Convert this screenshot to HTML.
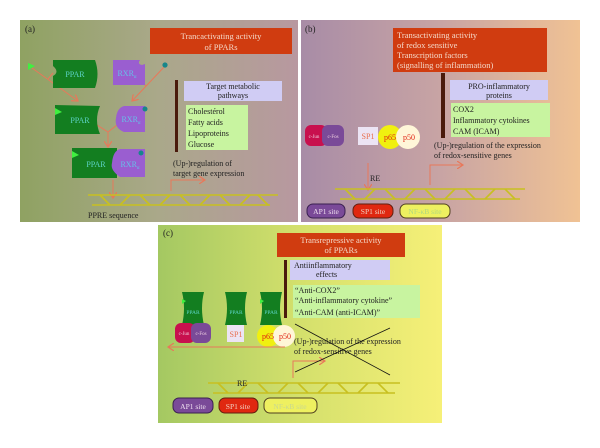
<!DOCTYPE html>
<html><head><meta charset="utf-8"><style>
html,body{margin:0;padding:0;background:#fff;}
svg text{font-family:"Liberation Serif",serif;}
</style></head><body>
<svg width="600" height="443" viewBox="0 0 600 443" xmlns="http://www.w3.org/2000/svg">
<defs>
<linearGradient id="ga" x1="0" x2="1" y1="0" y2="0"><stop offset="0" stop-color="#8fa262"/><stop offset="0.5" stop-color="#aaa88a"/><stop offset="1" stop-color="#b898a0"/></linearGradient>
<linearGradient id="gb" x1="0" x2="1" y1="0" y2="0"><stop offset="0" stop-color="#a88ca6"/><stop offset="0.5" stop-color="#c8a4a4"/><stop offset="1" stop-color="#f0c294"/></linearGradient>
<linearGradient id="gc" x1="0" x2="1" y1="0" y2="0"><stop offset="0" stop-color="#a4c862"/><stop offset="0.5" stop-color="#d4e06c"/><stop offset="1" stop-color="#f6f078"/></linearGradient>
<marker id="ar" markerWidth="8" markerHeight="8" refX="6" refY="4" orient="auto" markerUnits="userSpaceOnUse"><path d="M0,0 L6,4 L0,8" fill="none" stroke="#e8785a" stroke-width="1.2"/></marker>
</defs>
<!-- panel a -->
<rect x="20" y="20" width="278" height="202" fill="url(#ga)"/>
<text x="25" y="32" font-size="9" fill="#222">(a)</text>
<rect x="150" y="28" width="142" height="26" fill="#d03c10"/>
<text x="221" y="39" font-size="8.5" fill="#f4d8c8" text-anchor="middle">Trancactivating activity</text>
<text x="221" y="50" font-size="8.5" fill="#f4d8c8" text-anchor="middle">of PPARs</text>
<g stroke="#e8785a" stroke-width="1" fill="none">
<path d="M32,68 L78,101" marker-end="url(#ar)"/><path d="M48,79 L53,73"/>
<path d="M165,66 L132,101" marker-end="url(#ar)"/><path d="M146,86 L140,80"/>
<path d="M97,125 L108,132 L117,125"/><path d="M108,132 L108,147" marker-end="url(#ar)"/>
<path d="M113,180 L113,198" marker-end="url(#ar)"/>
<path d="M171,191 L171,180 L205,180" marker-end="url(#ar)"/>
</g>
<path d="M53,60 L95,60 Q100,74 95,88 L53,88 L53,76 Q60,72 53,66 Z" fill="#137e20"/>
<text x="75" y="77" font-size="8" fill="#5ed4c8" text-anchor="middle">PPAR</text>
<polygon points="28,63 35,66 28,70" fill="#40f040"/>
<path d="M113,60 L140,60 Q137,64 142,65 L145,64 L145,85 L113,85 Z" fill="#9a5ed0"/>
<text x="127" y="76" font-size="8" fill="#66c0e8" text-anchor="middle">RXR<tspan font-size="5" dy="2">α</tspan></text>
<circle cx="165" cy="65" r="2.6" fill="#17868a"/>
<path d="M55,105 L100,106 Q94,120 100,134 L55,134 Z" fill="#137e20"/>
<polygon points="55,108 62,112 55,115" fill="#40f040"/>
<text x="80" y="123" font-size="8" fill="#5ed4c8" text-anchor="middle">PPAR</text>
<path d="M124,106 L145,106 L145,132 L124,132 Q114,128 116,118 Q117,108 124,106 Z" fill="#9a5ed0"/>
<circle cx="145" cy="109" r="2.5" fill="#17868a"/>
<text x="131" y="122" font-size="8" fill="#66c0e8" text-anchor="middle">RXR<tspan font-size="5" dy="2">α</tspan></text>
<rect x="72" y="148" width="45" height="30" fill="#137e20"/>
<polygon points="72,151 79,155 72,158" fill="#40f040"/>
<path d="M120,149 L145,149 L145,177 L120,177 Q110,170 112,163 Q113,151 120,149 Z" fill="#9a5ed0"/>
<circle cx="141" cy="153" r="2.5" fill="#17868a"/>
<text x="96" y="167" font-size="8" fill="#5ed4c8" text-anchor="middle">PPAR</text>
<text x="130" y="167" font-size="8" fill="#66c0e8" text-anchor="middle">RXR<tspan font-size="5" dy="2">α</tspan></text>
<g stroke="#c8c020" stroke-width="1.6" fill="none">
<path d="M88,195 L278,195"/><path d="M92,205 L270,205"/>
<path d="M100,195 L110,205 M130,195 L120,205 M140,195 L150,205 M170,195 L160,205 M180,195 L190,205 M210,195 L200,205 M220,195 L230,205 M250,195 L240,205 M258,195 L268,205"/>
</g>
<text x="88" y="218" font-size="8" fill="#222">PPRE sequence</text>
<rect x="175" y="80" width="3" height="72" fill="#4a1a0c"/>
<rect x="184" y="81" width="98" height="20" fill="#d0ccf4"/>
<text x="233" y="89" font-size="8" fill="#222" text-anchor="middle">Target metabolic</text>
<text x="233" y="98" font-size="8" fill="#222" text-anchor="middle">pathways</text>
<rect x="186" y="105" width="62" height="45" fill="#c8f4a0"/>
<text font-size="8" fill="#222"><tspan x="188" y="114">Cholestérol</tspan><tspan x="188" y="125">Fatty acids</tspan><tspan x="188" y="136">Lipoproteins</tspan><tspan x="188" y="147">Glucose</tspan></text>
<text font-size="8" fill="#222"><tspan x="173" y="166">(Up-)regulation of</tspan><tspan x="173" y="176">target gene expression</tspan></text>

<!-- panel b -->
<rect x="301" y="20" width="279" height="202" fill="url(#gb)"/>
<text x="305" y="32" font-size="9" fill="#222">(b)</text>
<rect x="393" y="28" width="154" height="44" fill="#d03c10"/>
<text font-size="8.5" fill="#f4d8c8"><tspan x="397" y="38">Transactivating activity</tspan><tspan x="397" y="48">of redox sensitive</tspan><tspan x="397" y="58">Transcription factors</tspan><tspan x="397" y="68">(signalling of inflammation)</tspan></text>
<rect x="441" y="73" width="4" height="65" fill="#4a1a0c"/>
<rect x="450" y="80" width="98" height="20" fill="#d0ccf4"/>
<text x="499" y="89" font-size="8" fill="#222" text-anchor="middle">PRO-inflammatory</text>
<text x="499" y="98" font-size="8" fill="#222" text-anchor="middle">proteins</text>
<rect x="451" y="103" width="99" height="34" fill="#c8f4a0"/>
<text font-size="8" fill="#222"><tspan x="453" y="112">COX2</tspan><tspan x="453" y="123">Inflammatory cytokines</tspan><tspan x="453" y="134">CAM (ICAM)</tspan></text>
<rect x="305" y="125" width="22" height="21" rx="6" fill="#c8104e"/>
<rect x="322" y="125" width="22" height="21" rx="6" fill="#7a4a98"/>
<text x="314" y="138" font-size="5" fill="#f0d0e0" text-anchor="middle">c-Jun</text>
<text x="333" y="138" font-size="5" fill="#f0d0e0" text-anchor="middle">c-Fos</text>
<rect x="358" y="127" width="20" height="18" fill="#ece4f4"/>
<text x="368" y="139" font-size="8" fill="#e87050" text-anchor="middle">SP1</text>
<circle cx="390" cy="137" r="12" fill="#f0f010"/>
<circle cx="408" cy="137" r="12" fill="#fff6d8"/>
<text x="390" y="140" font-size="8" fill="#e02010" text-anchor="middle">p65</text>
<text x="409" y="140" font-size="8" fill="#e02010" text-anchor="middle">p50</text>
<text font-size="8" fill="#222"><tspan x="434" y="148">(Up-)regulation of the expression</tspan><tspan x="434" y="158">of redox-sensitive genes</tspan></text>
<g stroke="#e8785a" stroke-width="1" fill="none">
<path d="M368,163 L368,190" marker-end="url(#ar)"/>
<path d="M430,185 L430,165 L463,165" marker-end="url(#ar)"/>
</g>
<text x="370" y="181" font-size="8" fill="#222">RE</text>
<g stroke="#c8c020" stroke-width="1.6" fill="none">
<path d="M335,189 L525,189"/><path d="M340,199 L520,199"/>
<path d="M345,189 L355,199 M375,189 L365,199 M385,189 L395,199 M415,189 L405,199 M425,189 L435,199 M455,189 L445,199 M465,189 L475,199 M495,189 L485,199 M505,189 L515,199"/>
</g>
<rect x="307" y="204" width="38" height="14" rx="6" fill="#7a4a98" stroke="#3a2050"/>
<text x="326" y="214" font-size="7.5" fill="#f0e0f0" text-anchor="middle">AP1 site</text>
<rect x="353" y="204" width="40" height="14" rx="6" fill="#e02810" stroke="#602010"/>
<text x="373" y="214" font-size="7.5" fill="#f0d0c0" text-anchor="middle">SP1 site</text>
<rect x="400" y="204" width="50" height="14" rx="6" fill="#eef060" stroke="#504020"/>
<text x="425" y="214" font-size="7.5" fill="#b0d880" text-anchor="middle">NF-κB site</text>

<!-- panel c -->
<rect x="158" y="225" width="284" height="198" fill="url(#gc)"/>
<text x="163" y="236" font-size="9" fill="#222">(c)</text>
<rect x="277" y="233" width="128" height="24" fill="#d03c10"/>
<text x="341" y="243" font-size="8.5" fill="#f4d8c8" text-anchor="middle">Transrepressive activity</text>
<text x="341" y="253" font-size="8.5" fill="#f4d8c8" text-anchor="middle">of PPARs</text>
<rect x="284" y="260" width="3" height="58" fill="#4a1a0c"/>
<rect x="290" y="260" width="100" height="20" fill="#d0ccf4"/>
<text x="294" y="268" font-size="8" fill="#222">Antiinflammatory</text>
<text x="316" y="277" font-size="8" fill="#222">effects</text>
<rect x="293" y="285" width="127" height="33" fill="#c8f4a0"/>
<text font-size="8" fill="#222"><tspan x="295" y="293">“Anti-COX2”</tspan><tspan x="295" y="303">“Anti-inflammatory cytokine”</tspan><tspan x="295" y="315">“Anti-CAM (anti-ICAM)”</tspan></text>
<g fill="#137e20">
<path d="M182,292 L204,292 Q200,308 204,325 L182,325 Q186,308 182,292 Z"/>
<path d="M225,292 L247,292 Q243,308 247,325 L225,325 Q229,308 225,292 Z"/>
<path d="M260,292 L282,292 Q278,308 282,325 L260,325 Q264,308 260,292 Z"/>
</g>
<g fill="#40f040"><polygon points="182,299 186,301 182,304"/><polygon points="260,299 264,301 260,304"/></g>
<g font-size="5.5" fill="#5ed4c8" text-anchor="middle"><text x="193" y="314">PPAR</text><text x="236" y="314">PPAR</text><text x="271" y="314">PPAR</text></g>
<rect x="175" y="323" width="20" height="20" rx="6" fill="#c8104e"/>
<rect x="191" y="323" width="20" height="20" rx="6" fill="#7a4a98"/>
<text x="184" y="335" font-size="5" fill="#f0d0e0" text-anchor="middle">c-Jun</text>
<text x="201" y="335" font-size="5" fill="#f0d0e0" text-anchor="middle">c-Fos</text>
<rect x="227" y="325" width="17" height="17" fill="#ece4f4"/>
<text x="236" y="337" font-size="8" fill="#e87050" text-anchor="middle">SP1</text>
<circle cx="268" cy="336" r="11" fill="#f0f010"/>
<circle cx="284" cy="336" r="11" fill="#fff6d8"/>
<text x="268" y="339" font-size="8" fill="#e02010" text-anchor="middle">p65</text>
<text x="285" y="339" font-size="8" fill="#e02010" text-anchor="middle">p50</text>
<text font-size="8" fill="#222"><tspan x="294" y="344">(Up-)regulation of the expression</tspan><tspan x="294" y="354">of redox-sensitive genes</tspan></text>
<g stroke="#e8785a" stroke-width="1" fill="none">
<path d="M285,347 L168,347" marker-end="url(#ar)"/>
<path d="M293,378 L293,361 L325,361" marker-end="url(#ar)"/>
</g>
<g stroke="#111" stroke-width="0.8"><path d="M295,324 L390,375"/><path d="M295,372 L390,328"/></g>
<g stroke="#c8c020" stroke-width="1.6" fill="none">
<path d="M208,383 L400,383"/><path d="M213,393 L395,393"/>
<path d="M218,383 L228,393 M248,383 L238,393 M258,383 L268,393 M288,383 L278,393 M298,383 L308,393 M328,383 L318,393 M338,383 L348,393 M368,383 L358,393 M378,383 L388,393"/>
</g>
<text x="237" y="386" font-size="8" fill="#222">RE</text>
<rect x="173" y="398" width="40" height="15" rx="6" fill="#7a4a98" stroke="#3a2050"/>
<text x="193" y="409" font-size="7.5" fill="#f0e0f0" text-anchor="middle">AP1 site</text>
<rect x="219" y="398" width="39" height="15" rx="6" fill="#e02810" stroke="#602010"/>
<text x="238" y="409" font-size="7.5" fill="#f0d0c0" text-anchor="middle">SP1 site</text>
<rect x="264" y="398" width="53" height="15" rx="6" fill="#eef060" stroke="#504020"/>
<text x="290" y="409" font-size="7.5" fill="#c8d890" text-anchor="middle">NF-κB site</text>
</svg>
</body></html>
